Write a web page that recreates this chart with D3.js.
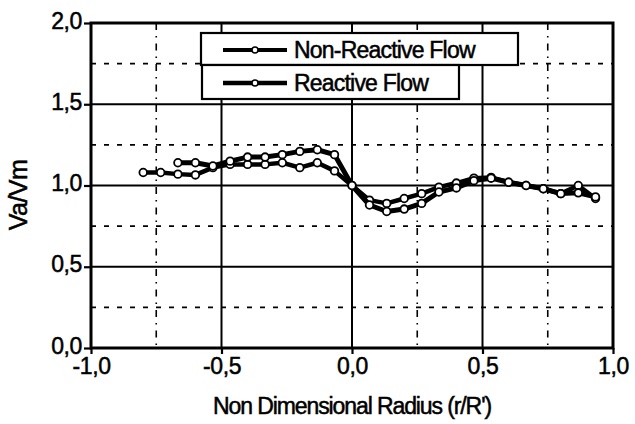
<!DOCTYPE html>
<html>
<head>
<meta charset="utf-8">
<script src="https://cdn.jsdelivr.net/npm/d3@7"></script>
<style>
  body { margin: 0; background: #fff; }
  text { font-family: "Liberation Sans", Arial, sans-serif; fill: #000; stroke: #000; stroke-width: 0.5px; }
</style>
</head>
<body>
<div id="chart"></div>
<script>
const radius = [-0.8, -0.733, -0.667, -0.6, -0.533, -0.467, -0.4, -0.333, -0.267, -0.2, -0.133, -0.067, 0,
  0.067, 0.133, 0.2, 0.267, 0.333, 0.4, 0.467, 0.533, 0.6, 0.667, 0.733, 0.8, 0.867, 0.933]
const nonReactive = [1.08, 1.08, 1.07, 1.065, 1.11, 1.13, 1.13, 1.13, 1.14, 1.11, 1.14, 1.09, 1.0,
  0.91, 0.89, 0.92, 0.95, 0.99, 1.015, 1.045, 1.05, 1.02, 1.0, 0.98, 0.95, 1.0, 0.92]
const reactive = [null, null, 1.14, 1.14, 1.12, 1.15, 1.175, 1.175, 1.19, 1.21, 1.22, 1.19, 1.0,
  0.88, 0.84, 0.855, 0.89, 0.96, 0.985, 1.03, 1.045, 1.02, 1.0, 0.98, 0.95, 0.955, 0.93]
const xMajor = [-1, -0.5, 0, 0.5, 1]
const xMinor = [-0.75, 0.25, 0.75]
const yMajor = [0, 0.5, 1, 1.5, 2]
const yMinor = [0.25, 0.75, 1.25, 1.75]
const seriesNames = ["Non-Reactive Flow", "Reactive Flow"]

const W = 635, H = 424
const margin = { top: 23, right: 22, bottom: 76, left: 91 }
const width = W - margin.left - margin.right
const height = H - margin.top - margin.bottom

const fmt = d => d3.format(".1f")(d).replace(".", ",").replace("−", "-")

const x = d3.scaleLinear().domain([-1, 1]).range([0, width])
const y = d3.scaleLinear().domain([0, 2]).range([height, 0])

const svg = d3.select("#chart").append("svg")
  .attr("width", W)
  .attr("height", H)
const g = svg.append("g")
  .attr("transform", "translate(" + margin.left + "," + margin.top + ")")

// grid
g.selectAll(".hminor").data(yMinor).enter().append("line")
  .attr("x1", 0).attr("x2", width)
  .attr("y1", d => y(d)).attr("y2", d => y(d))
  .attr("stroke", "#000").attr("stroke-width", 1.6).attr("stroke-dasharray", "5,8")
g.selectAll(".vminor").data(xMinor).enter().append("line")
  .attr("y1", 0).attr("y2", height)
  .attr("x1", d => x(d)).attr("x2", d => x(d))
  .attr("stroke", "#000").attr("stroke-width", 1.6).attr("stroke-dasharray", "7,6,1.5,6")
g.selectAll(".hmajor").data(yMajor.slice(1, -1)).enter().append("line")
  .attr("x1", 0).attr("x2", width)
  .attr("y1", d => y(d)).attr("y2", d => y(d))
  .attr("stroke", "#000").attr("stroke-width", 2.2)
g.selectAll(".vmajor").data(xMajor.slice(1, -1)).enter().append("line")
  .attr("y1", 0).attr("y2", height)
  .attr("x1", d => x(d)).attr("x2", d => x(d))
  .attr("stroke", "#000").attr("stroke-width", 2)

// axes
const xAxis = g.append("g")
  .attr("transform", "translate(0," + height + ")")
  .call(d3.axisBottom(x).tickValues(xMajor).tickFormat(fmt).tickSize(6).tickPadding(4))
const yAxis = g.append("g")
  .call(d3.axisLeft(y).tickValues(yMajor).tickFormat(fmt).tickSize(7).tickPadding(2))
;[xAxis, yAxis].forEach(a => {
  a.select(".domain").remove()
  a.selectAll("line").attr("stroke", "#000").attr("stroke-width", 2.2)
  a.selectAll("text").attr("font-size", 23).attr("font-family", "Liberation Sans, Arial, sans-serif")
    .attr("letter-spacing", -0.4)
})
yAxis.selectAll("text").attr("dy", "0.22em")

// frame
g.append("rect")
  .attr("width", width).attr("height", height)
  .attr("fill", "none").attr("stroke", "#000").attr("stroke-width", 3)

// series
const line = d3.line()
  .x(d => x(d[0]))
  .y(d => y(d[1]))

;[nonReactive, reactive].forEach((vals, i) => {
  const pts = radius.map((r, j) => [r, vals[j]]).filter(d => d[1] != null)
  g.append("path")
    .attr("d", line(pts))
    .attr("fill", "none").attr("stroke", "#000")
    .attr("stroke-width", i === 0 ? 4.5 : 5)
    .attr("stroke-linejoin", "round")
  g.selectAll(".m" + i).data(pts).enter().append("circle")
    .attr("cx", d => x(d[0])).attr("cy", d => y(d[1]))
    .attr("r", 3.8)
    .attr("fill", "#fff").attr("stroke", "#000").attr("stroke-width", 1.8)
})

// legend
const boxes = [
  { x: 201, y: 33, w: 317, h: 32 },
  { x: 202, y: 65, w: 257, h: 34 }
]
seriesNames.forEach((name, i) => {
  const b = boxes[i]
  const lg = svg.append("g")
  lg.append("rect")
    .attr("x", b.x).attr("y", b.y).attr("width", b.w).attr("height", b.h)
    .attr("fill", "#fff").attr("stroke", "#000").attr("stroke-width", 2.2)
  const cy = b.y + b.h / 2 + 1
  lg.append("line")
    .attr("x1", 223).attr("x2", 287).attr("y1", cy).attr("y2", cy)
    .attr("stroke", "#000").attr("stroke-width", i === 0 ? 4 : 4.5)
  lg.append("circle")
    .attr("cx", 255).attr("cy", cy).attr("r", 3)
    .attr("fill", "#fff").attr("stroke", "#000").attr("stroke-width", 1.5)
  lg.append("text")
    .attr("x", 294).attr("y", cy + 8)
    .attr("font-size", 23).attr("letter-spacing", -0.8)
    .text(name)
})

// titles
svg.append("text")
  .attr("x", margin.left + width / 2).attr("y", 414)
  .attr("text-anchor", "middle")
  .attr("font-size", 23).attr("letter-spacing", -1.1)
  .text("Non Dimensional Radius (r/R')")
svg.append("text")
  .attr("transform", "translate(27,195) rotate(-90)")
  .attr("text-anchor", "middle")
  .attr("font-size", 25).attr("letter-spacing", -0.5)
  .text("Va/Vm")
</script>
</body>
</html>
